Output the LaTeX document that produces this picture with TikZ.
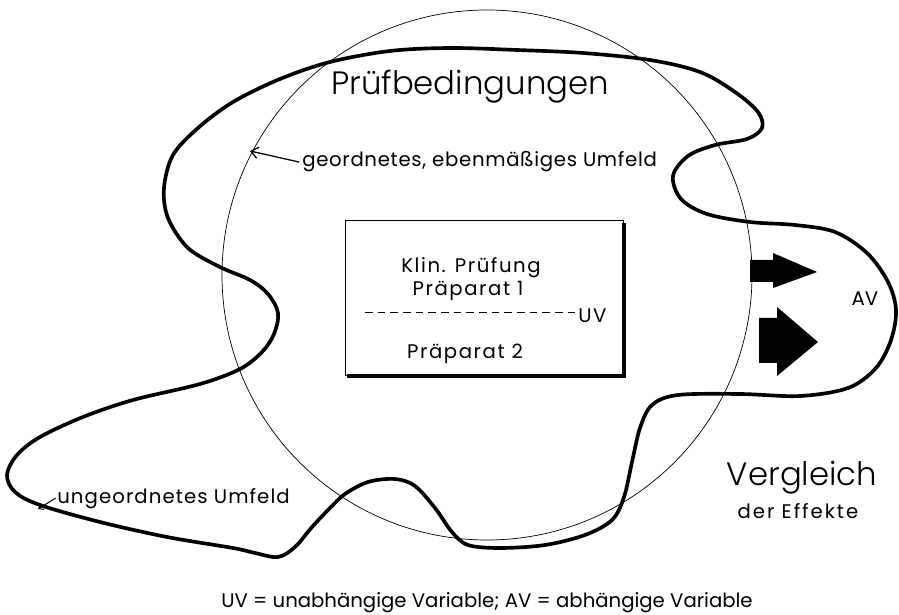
\documentclass[tikz,border=0pt]{standalone}
\usepackage{fontspec}
\setmainfont{Poppins}
\newfontfamily\duenn{Poppins Light}
\usetikzlibrary{arrows.meta}

\begin{document}
\begin{tikzpicture}[x=0.025cm,y=-0.025cm,
  umfeld/.style={line width=2.6pt, line join=round},
  zeiger/.style={line width=0.9pt, -{Straight Barb[length=5pt,width=8pt]}},
  klein/.style={font=\fontsize{14}{16}\selectfont},
  gesperrt/.style={font=\fontsize{14}{16}\selectfont\addfontfeatures{LetterSpace=#1}},
  gross/.style={font=\duenn\fontsize{23}{27}\selectfont}]
\useasboundingbox (0,0) rectangle (899,615);

% Kreis der Pruefbedingungen
\draw[line width=0.5pt] (487,275) circle (265);

% ungeordnetes Umfeld
\draw[umfeld] plot[smooth cycle, tension=0.55] coordinates {
  (390,51) (450,48) (517,50) (583,53) (650,60) (700,72) (735,92) (758,112)
  (762,128) (747,139) (715,145) (688,156) (673,176) (681,199) (707,214)
  (750,222) (795,225) (835,232) (867,253) (888,282) (896,310) (891,340)
  (876,368) (848,388) (800,396) (740,394) (678,395) (652,405) (640,428)
  (632,462) (624,497) (612,520) (585,535) (545,545) (500,548) (468,545)
  (452,532) (435,508) (415,486) (395,479) (368,482) (345,494) (330,508)
  (312,527) (295,547) (278,557) (255,553) (233,548) (167,537) (100,522)
  (40,505) (15,492) (7,475) (17,455) (40,437) (83,417) (133,400) (200,384)
  (240,369) (262,352) (274,334) (278,313) (268,294) (250,280) (220,267)
  (188,248) (168,218) (164,188) (173,155) (198,128) (233,102) (280,79)
  (330,62)};

% Kasten mit Schatten
\draw[line width=0.6pt] (345,220) rectangle (623,375);
\draw[line width=2.2pt] (624,223) -- (624,376) -- (347,376);
\node[gesperrt=8, anchor=base] (klin) at (471,273) {Klin. Prüfung};
\node[gesperrt=8, anchor=base] (praep1) at (468,296) {Präparat 1};
\node[gesperrt=8, anchor=base] (praep2) at (465,359) {Präparat 2};
\node[gesperrt=8, anchor=base west, inner sep=0pt] (uv) at (578,323) {UV};
\coordinate (trenn) at (365,312);
\draw[line width=0.6pt, dash pattern=on 5.5pt off 3.5pt] (trenn) -- (uv.west |- trenn);

% Pfeile zur AV
\fill (750,260) -- (773,260) -- (773,253) -- (817,272) -- (773,288)
  -- (773,282) -- (750,282) -- cycle;
\fill (759,318) -- (777,318) -- (777,307) -- (818,342) -- (777,376)
  -- (777,363) -- (759,363) -- cycle;
\node[klein, anchor=base] (av) at (865,306) {AV};

% Beschriftungen
\node[gross, anchor=base] (titel) at (470,95) {Prüfbedingungen};
\node[gesperrt=3.5, anchor=base west, inner sep=0pt] (geordnet) at (302,167)
  {geordnetes, ebenmäßiges Umfeld};
\coordinate (kreisrand) at (250,151);
\draw[zeiger] ([xshift=-2pt]geordnet.west) -- (kreisrand);

\node[gesperrt=5.5, anchor=base west, inner sep=0pt] (ungeordnet) at (57,503)
  {ungeordnetes Umfeld};
\coordinate (blobrand) at (38,509);
\draw[line width=0.7pt, -{Straight Barb[length=3pt,width=5pt]}]
  ([xshift=-1pt]ungeordnet.west) -- (blobrand);

\node[gross, anchor=base] (vergleich) at (802,485) {Vergleich};
\node[gesperrt=10, anchor=base] (effekte) at (798,518) {der Effekte};

\node[klein, anchor=base] (legende) at (487,607)
  {UV = unabhängige Variable; AV = abhängige Variable};
\end{tikzpicture}
\end{document}
